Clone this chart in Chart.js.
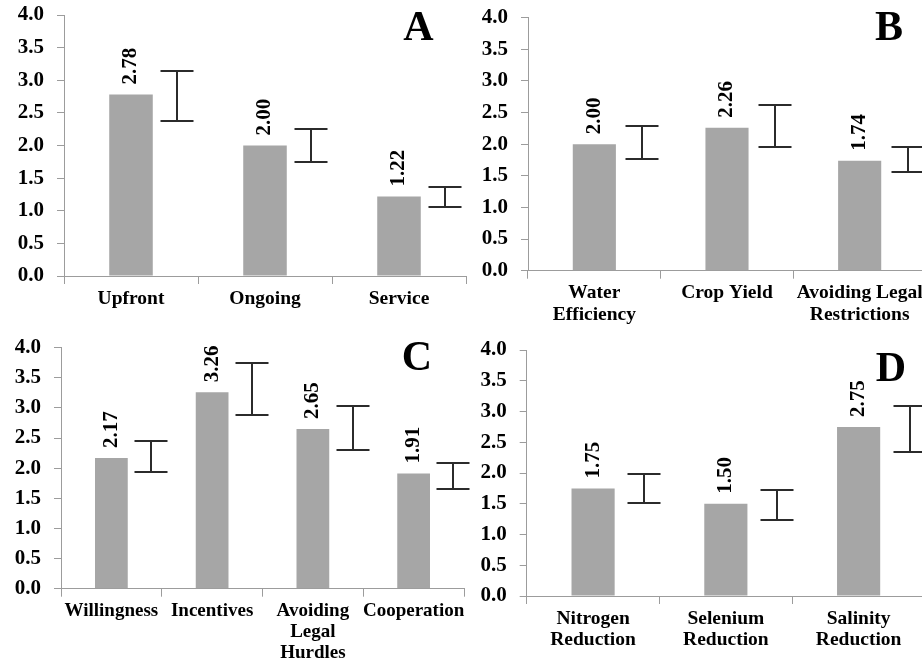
<!DOCTYPE html>
<html>
<head>
<meta charset="utf-8">
<title>Mean ratings by category</title>
<script src="https://cdn.jsdelivr.net/npm/chart.js@4"></script>
<style>
  html, body { margin: 0; padding: 0; background: #fff; overflow: hidden; }
  body { width: 922px; height: 664px; position: relative; }
  canvas { position: absolute; }
</style>
</head>
<body>
<canvas id="panelA"></canvas>
<canvas id="panelB"></canvas>
<canvas id="panelC"></canvas>
<canvas id="panelD"></canvas>
<script>
// ---- data ----
const yTickValues = [0, 0.5, 1, 1.5, 2, 2.5, 3, 3.5, 4];

const catsA = ['Upfront', 'Ongoing', 'Service'];
const meansA = [2.78, 2.00, 1.22];
const errLowA = [2.38, 1.74, 1.05];
const errHighA = [3.14, 2.25, 1.36];

const catsB = [['Water', 'Efficiency'], 'Crop Yield', ['Avoiding Legal', 'Restrictions']];
const meansB = [2.00, 2.26, 1.74];
const errLowB = [1.76, 1.96, 1.56];
const errHighB = [2.28, 2.62, 1.96];

const catsC = ['Willingness', 'Incentives', ['Avoiding', 'Legal', 'Hurdles'], 'Cooperation'];
const meansC = [2.17, 3.26, 2.65, 1.91];
const errLowC = [1.94, 2.88, 2.31, 1.65];
const errHighC = [2.45, 3.75, 3.03, 2.09];

const catsD = [['Nitrogen', 'Reduction'], ['Selenium', 'Reduction'], ['Salinity', 'Reduction']];
const meansD = [1.75, 1.50, 2.75];
const errLowD = [1.51, 1.24, 2.34];
const errHighD = [1.99, 1.72, 3.09];

const panelTags = ['A', 'B', 'C', 'D'];

// ---- layout & style ----
const SERIF = '"Liberation Serif", "Times New Roman", serif';
const BAR_COLOR = '#a6a6a6';
const AXIS_COLOR = '#9c9c9c';
const ERR_COLOR = '#2b2b2b';

// canvas box, plot edges (page px), tag anchor, error-bar shift as share of a category
const boxA = { left: 0,   top: 0,   width: 480, height: 330, axL: 64,  axR: 466, yTop: 15,  yZero: 276, tagX: 418.5, tagY: 40,  errShift: 0.345, labelSize: 19.5 };
const boxB = { left: 461, top: 0,   width: 479, height: 330, axL: 528, axR: 926, yTop: 17.7, yZero: 270.7, tagX: 889, tagY: 40, errShift: 0.363, labelSize: 19.5 };
const boxC = { left: 0,   top: 330, width: 480, height: 334, axL: 61,  axR: 464, yTop: 347.7, yZero: 588.7, tagX: 417, tagY: 370, errShift: 0.394, labelSize: 19 };
const boxD = { left: 461, top: 330, width: 479, height: 334, axL: 526.7, axR: 925, yTop: 350, yZero: 596, tagX: 891, tagY: 381, errShift: 0.386, labelSize: 19.5 };

function errorBars(low, high, shift) {
  return {
    id: 'errorBars',
    afterDatasetsDraw(chart) {
      const ctx = chart.ctx;
      const xs = chart.scales.x, ys = chart.scales.y;
      const step = xs.width / chart.data.labels.length;
      const cap = 33;
      ctx.save();
      ctx.strokeStyle = ERR_COLOR;
      ctx.lineWidth = 2;
      chart.getDatasetMeta(0).data.forEach((bar, i) => {
        const cx = Math.round(bar.x + shift * step);
        const yh = Math.round(ys.getPixelForValue(high[i]));
        const yl = Math.round(ys.getPixelForValue(low[i]));
        ctx.beginPath();
        ctx.moveTo(cx, yh); ctx.lineTo(cx, yl);
        ctx.moveTo(cx - cap / 2, yh); ctx.lineTo(cx + cap / 2, yh);
        ctx.moveTo(cx - cap / 2, yl); ctx.lineTo(cx + cap / 2, yl);
        ctx.stroke();
      });
      ctx.restore();
    }
  };
}

function valueLabels(values) {
  return {
    id: 'valueLabels',
    afterDatasetsDraw(chart) {
      const ctx = chart.ctx;
      ctx.save();
      ctx.fillStyle = '#000';
      ctx.font = 'bold 21px ' + SERIF;
      ctx.textAlign = 'left';
      ctx.textBaseline = 'middle';
      chart.getDatasetMeta(0).data.forEach((bar, i) => {
        ctx.save();
        ctx.translate(bar.x, bar.y - 10);
        ctx.rotate(-Math.PI / 2);
        ctx.fillText(values[i].toFixed(2), 0, 0);
        ctx.restore();
      });
      ctx.restore();
    }
  };
}

function panelTag(text, box) {
  return {
    id: 'panelTag',
    afterDraw(chart) {
      const ctx = chart.ctx;
      ctx.save();
      ctx.fillStyle = '#000';
      ctx.font = 'bold 42px ' + SERIF;
      ctx.textAlign = 'center';
      ctx.textBaseline = 'alphabetic';
      ctx.fillText(text, box.tagX - box.left, box.tagY - box.top);
      ctx.restore();
    }
  };
}

function makePanel(id, box, cats, means, low, high, tag) {
  const cv = document.getElementById(id);
  cv.width = box.width;
  cv.height = box.height;
  cv.style.width = box.width + 'px';
  cv.style.height = box.height + 'px';
  cv.style.left = box.left + 'px';
  cv.style.top = box.top + 'px';
  const yAxisWidth = box.axL - box.left;
  const xAxisHeight = box.top + box.height - box.yZero;

  return new Chart(cv, {
    type: 'bar',
    data: {
      labels: cats,
      datasets: [{
        data: means,
        backgroundColor: BAR_COLOR,
        borderWidth: 0,
        barPercentage: 0.325,
        categoryPercentage: 1
      }]
    },
    options: {
      responsive: false,
      animation: false,
      devicePixelRatio: 1,
      layout: {
        padding: { left: 0, top: box.yTop - box.top, right: box.left + box.width - box.axR, bottom: 0 }
      },
      plugins: { legend: { display: false }, tooltip: { enabled: false }, title: { display: false } },
      scales: {
        x: {
          grid: { offset: true, drawOnChartArea: false, drawTicks: true, tickLength: 8, color: AXIS_COLOR, lineWidth: 1 },
          border: { display: true, color: AXIS_COLOR, width: 1 },
          ticks: {
            color: '#000',
            font: { family: SERIF, size: box.labelSize, weight: 'bold', lineHeight: 1.1 },
            padding: 4, maxRotation: 0, minRotation: 0, autoSkip: false
          },
          afterFit(scale) {
            scale.height = xAxisHeight;
            scale.paddingLeft = 0;
            scale.paddingRight = 0;
          }
        },
        y: {
          min: 0, max: 4,
          grid: { drawOnChartArea: false, drawTicks: true, tickLength: 7, color: AXIS_COLOR, lineWidth: 1 },
          border: { display: true, color: AXIS_COLOR, width: 1 },
          ticks: {
            color: '#000',
            font: { family: SERIF, size: 21, weight: 'bold' },
            padding: 13,
            callback: (v) => Number(v).toFixed(1)
          },
          afterBuildTicks(scale) { scale.ticks = yTickValues.map(v => ({ value: v })); },
          afterFit(scale) {
            scale.width = yAxisWidth;
            scale.paddingTop = 0;
            scale.paddingBottom = 0;
          }
        }
      }
    },
    plugins: [errorBars(low, high, box.errShift), valueLabels(means), panelTag(tag, box)]
  });
}

makePanel('panelA', boxA, catsA, meansA, errLowA, errHighA, panelTags[0]);
makePanel('panelB', boxB, catsB, meansB, errLowB, errHighB, panelTags[1]);
makePanel('panelC', boxC, catsC, meansC, errLowC, errHighC, panelTags[2]);
makePanel('panelD', boxD, catsD, meansD, errLowD, errHighD, panelTags[3]);
</script>
</body>
</html>
